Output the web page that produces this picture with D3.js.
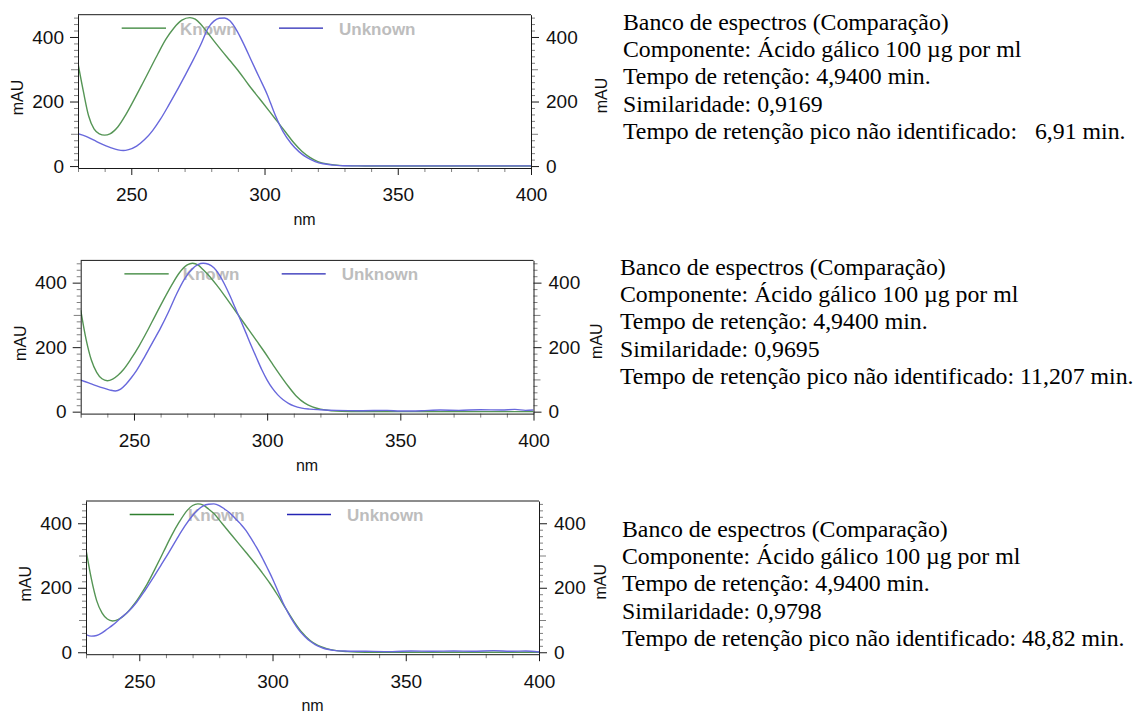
<!DOCTYPE html>
<html>
<head>
<meta charset="utf-8">
<script src="https://cdn.jsdelivr.net/npm/d3@7"></script>
<style>
  body { margin: 0; background: #fff; }
  svg { display: block; }
  .info { font-family: "Liberation Serif", "Times New Roman", serif; font-size: 23.8px; fill: #000; white-space: pre; }
  .ticklbl text { font-family: "Liberation Sans", Arial, sans-serif; font-size: 19px; fill: #111; }
  .axis-title { font-family: "Liberation Sans", Arial, sans-serif; font-size: 16px; fill: #111; }
  .legend-text { font-family: "Liberation Sans", Arial, sans-serif; font-size: 17px; font-weight: bold; fill: #bdbdbd; }
</style>
</head>
<body>
<svg id="chart" width="1140" height="714"></svg>
<script>
// Wavelength axis (nm) and absorbance axis (mAU)
const xDomain = [230, 400];
const yDomain = [-6, 469];
const xMajorTicks = [250, 300, 350, 400];
const yMajorTicks = [0, 200, 400];
const seriesNames = ["Known", "Unknown"];
const xAxisTitle = "nm";
const yAxisTitle = "mAU";

// Spectrum comparison 1: unidentified peak at 6,91 min
const known1 = [[230,318],[232,232],[234,155],[236,115],[238,100],[240,96],[242,100],[245,122],[248,160],[251,205],[254,252],[257,300],[260,348],[263,393],[266,428],[269,452],[272,460],[274,455],[276,440],[278,420],[281,388],[284,357],[287,327],[290,297],[294,252],[298,210],[302,168],[305,136],[308,104],[311,72],[314,46],[317,27],[320,14],[324,6],[328,2],[335,0.5],[345,0],[400,0]];
const unknown1 = [[230,100],[233,92],[236,80],[239,68],[242,58],[245,50],[247,48],[249,51],[252,62],[255,82],[258,110],[261,146],[264,188],[267,232],[270,278],[273,325],[276,375],[279,430],[281,449],[283,458],[285,459],[287,450],[289,428],[291,398],[293,364],[295,328],[298,275],[301,222],[304,158],[307,106],[310,70],[313,44],[316,26],[319,14],[322,7],[326,3],[330,1],[340,0.5],[400,0.5]];

// Spectrum comparison 2: unidentified peak at 11,207 min
const known2 = [[230,315],[232,225],[234,160],[236,122],[238,102],[240,96],[242,101],[244,113],[246,130],[249,165],[252,205],[255,250],[258,298],[261,345],[264,390],[267,430],[270,455],[272,460],[274,455],[276,440],[278,423],[281,393],[284,360],[287,325],[290,290],[293,255],[296,220],[299,185],[302,148],[305,112],[308,78],[311,48],[314,27],[317,15],[320,8],[324,3],[328,1],[335,0],[400,0]];
const unknown2 = [[230,98],[233,89],[236,80],[239,72],[241,67],[243,64],[245,70],[247,85],[249,105],[251,128],[254,170],[257,215],[260,260],[263,310],[266,365],[269,412],[272,444],[274,456],[276,460],[278,457],[280,446],[282,425],[284,395],[286,360],[288,322],[290,284],[292,245],[294,205],[296,167],[298,130],[300,98],[302,72],[304,52],[306,37],[308,26],[310,18],[313,11],[316,8],[320,6],[326,4],[335,3],[345,4],[350,2],[358,3],[365,5],[372,4],[380,6],[388,5],[393,7],[397,4],[400,5]];

// Spectrum comparison 3: unidentified peak at 48,82 min
const known3 = [[230,318],[232,228],[234,160],[236,122],[238,103],[240,97],[242,101],[244,112],[246,128],[248,148],[250,172],[253,212],[256,260],[259,310],[262,360],[265,404],[268,440],[270,455],[272,460],[274,456],[276,444],[278,430],[281,400],[284,370],[287,340],[290,310],[293,280],[296,248],[299,214],[302,176],[305,135],[308,96],[311,62],[314,37],[317,21],[320,12],[324,5],[328,2],[335,0],[400,0]];
const unknown3 = [[230,55],[232,50],[234,52],[236,60],[238,72],[240,84],[243,106],[246,127],[249,155],[252,190],[255,228],[258,268],[261,308],[264,350],[267,390],[270,424],[272,442],[274,454],[276,459],[278,460],[280,455],[282,444],[284,432],[286,415],[288,398],[290,378],[292,352],[294,325],[296,295],[298,262],[300,228],[302,190],[304,152],[306,120],[308,92],[310,68],[312,50],[314,35],[316,24],[318,16],[320,10],[323,6],[327,4],[335,3],[345,2],[352,4],[360,3],[368,4],[375,3],[383,5],[390,3],[395,4],[400,1]];

// Library-match report printed next to each spectrum
const info1 = ["Banco de espectros (Comparação)", "Componente: Ácido gálico 100 µg por ml", "Tempo de retenção: 4,9400 min.", "Similaridade: 0,9169", "Tempo de retenção pico não identificado:   6,91 min."];
const info2 = ["Banco de espectros (Comparação)", "Componente: Ácido gálico 100 µg por ml", "Tempo de retenção: 4,9400 min.", "Similaridade: 0,9695", "Tempo de retenção pico não identificado: 11,207 min."];
const info3 = ["Banco de espectros (Comparação)", "Componente: Ácido gálico 100 µg por ml", "Tempo de retenção: 4,9400 min.", "Similaridade: 0,9798", "Tempo de retenção pico não identificado: 48,82 min."];

// Page layout of the three stacked panels
const panels = [
  { known: known1, unknown: unknown1, info: info1, box: {left: 78, right: 531, top: 14.7, bottom: 168}, textX: 623, textY: 30, rMauX: 607 },
  { known: known2, unknown: unknown2, info: info2, box: {left: 80.7, right: 533.5, top: 260.4, bottom: 413.6}, textX: 620, textY: 275, rMauX: 602 },
  { known: known3, unknown: unknown3, info: info3, box: {left: 86, right: 539, top: 501, bottom: 654.2}, textX: 622, textY: 537, rMauX: 606 }
];

const colors = { known: "#559555", unknown: "#6868dc", knownKey: "#2f7f2f", unknownKey: "#2424b4", axis: "#1a1a1a", minor: "#808080" };
const lineGap = 27.2;

const svg = d3.select("#chart");

panels.forEach((p, i) => {
  const b = p.box;
  const x = d3.scaleLinear().domain(xDomain).range([b.left, b.right]);
  const y = d3.scaleLinear().domain(yDomain).range([b.bottom, b.top]);
  const g = svg.append("g").attr("class", "panel" + (i + 1));

  const clipId = "clip" + i;
  svg.append("clipPath").attr("id", clipId)
    .append("rect").attr("x", b.left).attr("y", b.top).attr("width", b.right - b.left).attr("height", b.bottom - b.top);

  // top frame line
  g.append("line").attr("x1", b.left).attr("x2", b.right).attr("y1", b.top).attr("y2", b.top)
    .attr("stroke", colors.axis).attr("stroke-width", 1);

  // legend labels sit underneath the traces
  g.append("text").attr("class", "legend-text").attr("x", b.left + 102).attr("y", b.top + 20).text(seriesNames[0]);
  g.append("text").attr("class", "legend-text").attr("x", b.left + 261).attr("y", b.top + 20).text(seriesNames[1]);

  const line = d3.line().x(d => x(d[0])).y(d => y(d[1])).curve(d3.curveMonotoneX);
  const traces = g.append("g").attr("clip-path", `url(#${clipId})`);
  traces.append("path").datum(p.known).attr("d", line)
    .attr("fill", "none").attr("stroke", colors.known).attr("stroke-width", 1.4);
  traces.append("path").datum(p.unknown).attr("d", line)
    .attr("fill", "none").attr("stroke", colors.unknown).attr("stroke-width", 1.4);

  // legend keys
  g.append("line").attr("x1", b.left + 43.7).attr("x2", b.left + 88).attr("y1", b.top + 13.5).attr("y2", b.top + 13.5)
    .attr("stroke", colors.knownKey).attr("stroke-width", 1.3);
  g.append("line").attr("x1", b.left + 201).attr("x2", b.left + 245).attr("y1", b.top + 13.5).attr("y2", b.top + 13.5)
    .attr("stroke", colors.unknownKey).attr("stroke-width", 1.3);

  // minor tick positions
  const yMinor = d3.range(20, yDomain[1], 20).filter(v => v % 100 !== 0);
  const yMid = [100, 300];
  const xMinor = d3.range(230, 400, 10).filter(v => v % 50 !== 0);

  function styleMinor(sel) {
    sel.select(".domain").remove();
    sel.selectAll(".tick line").attr("stroke", colors.minor);
  }

  // left axis
  g.append("g").attr("transform", `translate(${b.left},0)`)
    .call(d3.axisLeft(y).tickValues(yMinor).tickSize(4).tickFormat("")).call(styleMinor);
  g.append("g").attr("transform", `translate(${b.left},0)`)
    .call(d3.axisLeft(y).tickValues(yMid).tickSize(7).tickFormat("")).call(styleMinor);
  const yl = g.append("g").attr("class", "ticklbl").attr("transform", `translate(${b.left},0)`)
    .call(d3.axisLeft(y).tickValues(yMajorTicks).tickSize(8).tickPadding(6).tickSizeOuter(0));
  yl.selectAll("text").attr("font-family", null).attr("font-size", null);
  yl.select(".domain").attr("stroke", colors.axis);
  yl.selectAll(".tick line").attr("stroke", colors.axis);

  // right axis
  g.append("g").attr("transform", `translate(${b.right},0)`)
    .call(d3.axisRight(y).tickValues(yMinor).tickSize(4).tickFormat("")).call(styleMinor);
  g.append("g").attr("transform", `translate(${b.right},0)`)
    .call(d3.axisRight(y).tickValues(yMid).tickSize(7).tickFormat("")).call(styleMinor);
  const yr = g.append("g").attr("class", "ticklbl").attr("transform", `translate(${b.right},0)`)
    .call(d3.axisRight(y).tickValues(yMajorTicks).tickSize(8).tickPadding(7).tickSizeOuter(0));
  yr.selectAll("text").attr("font-family", null).attr("font-size", null);
  yr.select(".domain").attr("stroke", colors.axis);
  yr.selectAll(".tick line").attr("stroke", colors.axis);

  // bottom axis
  g.append("g").attr("transform", `translate(0,${b.bottom})`)
    .call(d3.axisBottom(x).tickValues(xMinor.concat([230])).tickSize(4).tickFormat("")).call(styleMinor);
  const xb = g.append("g").attr("class", "ticklbl").attr("transform", `translate(0,${b.bottom})`)
    .call(d3.axisBottom(x).tickValues(xMajorTicks).tickSize(7).tickPadding(13).tickSizeOuter(0));
  xb.selectAll("text").attr("font-family", null).attr("font-size", null);
  xb.select(".domain").attr("stroke", colors.axis);
  xb.selectAll(".tick line").attr("stroke", colors.axis);

  // axis titles
  g.append("text").attr("class", "axis-title").attr("text-anchor", "middle")
    .attr("x", (b.left + b.right) / 2).attr("y", Math.min(b.bottom + 57, 711)).text(xAxisTitle);
  g.append("text").attr("class", "axis-title").attr("text-anchor", "middle")
    .attr("transform", `translate(${b.left - 55},${y(200) - 4}) rotate(-90)`).text(yAxisTitle);
  g.append("text").attr("class", "axis-title").attr("text-anchor", "middle")
    .attr("transform", `translate(${p.rMauX},${y(200) - 6}) rotate(-90)`).text(yAxisTitle);

  // report text
  g.selectAll("text.info").data(p.info).join("text")
    .attr("class", "info")
    .attr("x", p.textX)
    .attr("y", (d, k) => p.textY + k * lineGap)
    .text(d => d);
});
</script>
</body>
</html>
